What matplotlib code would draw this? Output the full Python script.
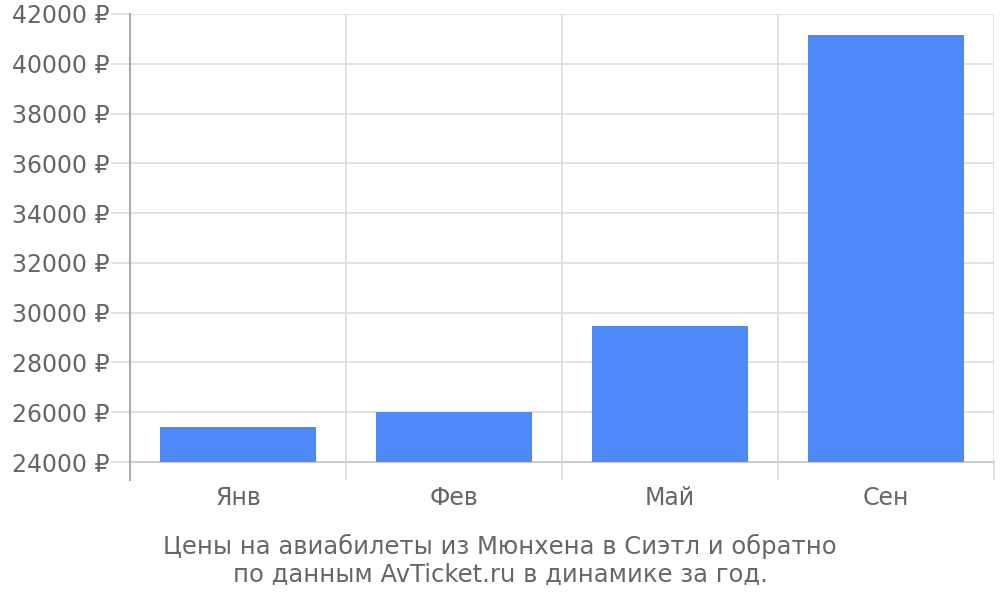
import matplotlib
matplotlib.use("Agg")
from matplotlib import pyplot as plt
from matplotlib.ticker import FixedLocator, FuncFormatter

# data
months = ["Янв", "Фев", "Май", "Сен"]
prices = [25400, 26000, 29450, 41150]
y_ticks = list(range(24000, 42001, 2000))
title = "Цены на авиабилеты из Мюнхена в Сиэтл и обратно\nпо данным AvTicket.ru в динамике за год."

text_color = "#666666"
grid_color = "#dddddd"
bar_color = "#4d89f9"

fig = plt.figure(figsize=(10, 6), dpi=100)
ax = fig.add_axes([0.13, 0.23, 0.864, 0.7467])

x = list(range(len(months)))
ax.bar(x, prices, width=0.72, color=bar_color, zorder=3)

ax.set_xlim(-0.5, len(months) - 0.5)
ax.set_ylim(y_ticks[0], y_ticks[-1])

# y axis
ax.set_yticks(y_ticks)
ax.yaxis.set_major_formatter(FuncFormatter(lambda v, p: "%d ₽" % v))
ax.tick_params(axis="y", length=14, width=1.2, color=grid_color,
               labelsize=17, labelcolor=text_color, pad=1)
ax.grid(axis="y", color=grid_color, linewidth=1.2, zorder=0)

# x axis: labels at centres, grid lines at category borders
ax.set_xticks(x)
ax.set_xticklabels(months)
ax.tick_params(axis="x", which="major", length=0, labelsize=17,
               labelcolor=text_color, pad=17)
ax.xaxis.set_minor_locator(FixedLocator([i - 0.5 for i in range(len(months) + 1)]))
ax.tick_params(axis="x", which="minor", length=13, width=1.2, color=grid_color)
ax.grid(axis="x", which="minor", color=grid_color, linewidth=1.2, zorder=0)

for side in ["top", "right", "left"]:
    ax.spines[side].set_visible(False)
ax.spines["bottom"].set_color("#cccccc")
ax.spines["bottom"].set_linewidth(1.5)
# left axis line runs down past the x axis like the category borders
ax.plot([0, 0], [-0.04, 1], transform=ax.transAxes, color="#aaaaaa",
        linewidth=1.5, clip_on=False, zorder=4)

fig.text(0.5, 0.022, title, ha="center", va="bottom", fontsize=17.5,
         color=text_color, linespacing=1.2)

fig.savefig("out.png", dpi=100)
